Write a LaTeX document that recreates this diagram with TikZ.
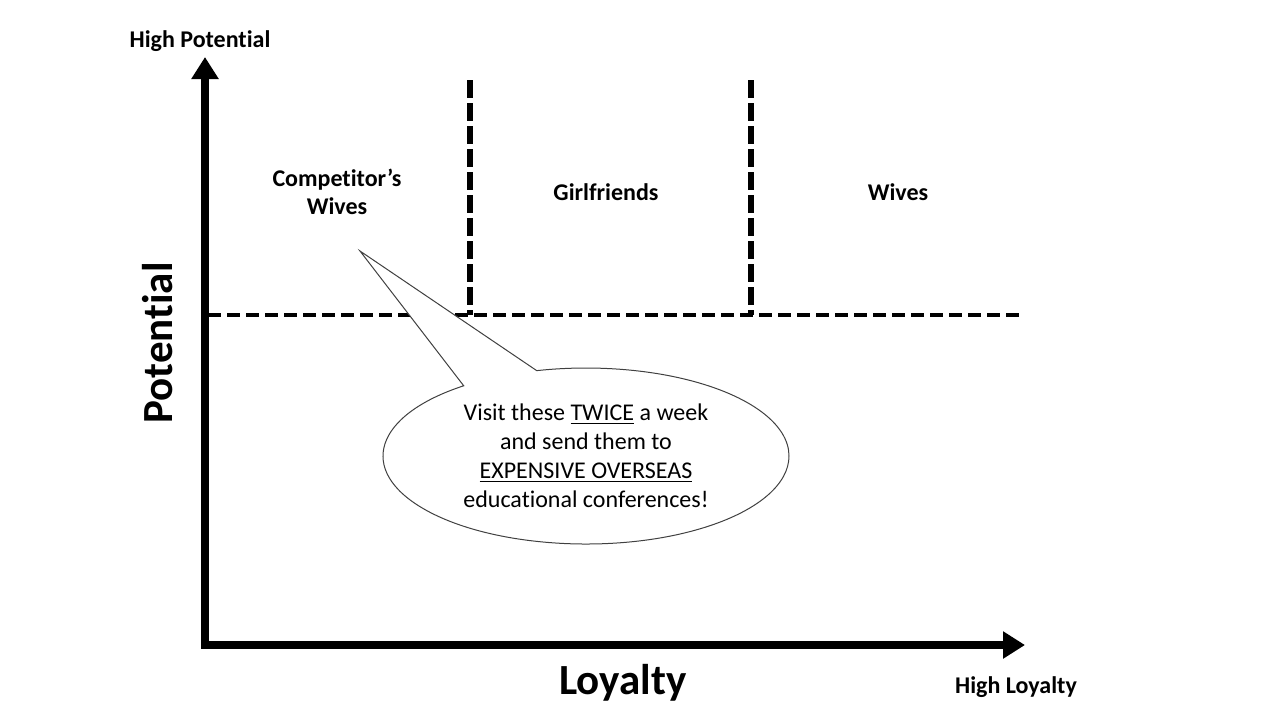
\documentclass[tikz,border=0pt]{standalone}
\usepackage{fontspec}
\setmainfont{Carlito}[Ligatures=NoCommon]
\usetikzlibrary{arrows.meta,shapes.callouts}
\tikzset{>={Triangle[width=13pt,length=11pt]}}
\tikzset{
  axis/.style={line width=4pt,line join=miter},
  cut/.style={line width=1.75pt,dash pattern=on 6.5pt off 3pt},
  divider/.style={line width=3pt,dash pattern=on 9pt off 2.5pt},
  quadrant/.style={align=center,font=\bfseries\fontsize{12}{14}\selectfont},
  bigtitle/.style={font=\bfseries\fontsize{21.5}{24}\selectfont},
  bubble/.style={ellipse callout,draw=black!75,line width=0.5pt,fill=white,
    minimum width=203pt,minimum height=88pt,inner sep=0pt,align=center,
    font=\fontsize{12}{14.5}\selectfont,callout pointer arc=23}
}
\begin{document}
\begin{tikzpicture}[x=0.5pt,y=-0.5pt]
    \useasboundingbox (0,0) rectangle (1280,720);
    % axes
    \coordinate (origin) at (205,645);
    \coordinate (ytop) at (205,57);
    \coordinate (xend) at (1025,645);
    \draw[axis,<->] (ytop) -- (origin) -- (xend);
    % quadrant lines
    \coordinate (cutL) at (208,315);
    \coordinate (cutR) at (1023,315);
    \coordinate (divA) at (470,80);
    \coordinate (divAb) at (470,315);
    \coordinate (divB) at (751,80);
    \coordinate (divBb) at (751,315);
    \draw[cut] (cutL) -- (cutR);
    \draw[divider] (divA) -- (divAb);
    \draw[divider] (divB) -- (divBb);
    % labels
    \node[quadrant] (highpot) at (200,41) {High Potential};
    \node[quadrant] (highloy) at (1016,687) {High Loyalty};
    \node[quadrant] (compwives) at (337,192) {Competitor’s\\Wives};
    \node[quadrant] (girlfriends) at (606,192) {Girlfriends};
    \node[quadrant] (wives) at (898,192) {Wives};
    \node[bigtitle,rotate=90] (potential) at (158,343) {Potential};
    \node[bigtitle] (loyalty) at (623,683) {Loyalty};
    % callout
    \coordinate (tip) at (360,251);
    \node[bubble,callout absolute pointer={(tip)}] (advice) at (586,456)
        {Visit these \underline{TWICE} a week\\and send them to\\
         \underline{EXPENSIVE OVERSEAS}\\educational conferences!};
\end{tikzpicture}
\end{document}
